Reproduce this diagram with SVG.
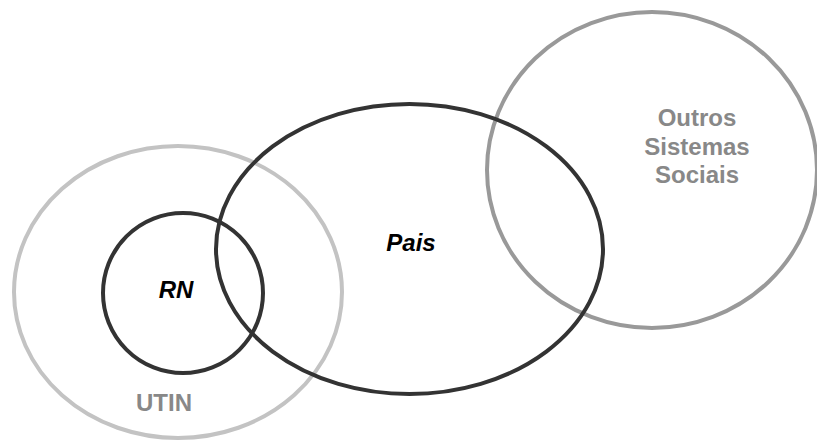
<svg xmlns="http://www.w3.org/2000/svg" width="817" height="442" viewBox="0 0 817 442">
<style>
.ring{fill:none;stroke-width:4}
.dark{stroke:#333333}
.light{stroke:#c3c3c3}
.mid{stroke:#999999}
.lbl{font-family:"Liberation Sans",Arial,sans-serif;font-weight:bold;font-size:24px;text-anchor:middle}
.it{font-style:italic;fill:#000000}
.gr{fill:#888888}
</style>
<rect width="817" height="442" fill="#ffffff"/>
<g id="utin">
<ellipse class="ring light" cx="178" cy="292" rx="164" ry="146"/>
<text class="lbl gr" x="164" y="411">UTIN</text>
</g>
<g id="outros">
<ellipse class="ring mid" cx="652" cy="170" rx="165" ry="158"/>
<text class="lbl gr" x="697" y="126">Outros</text>
<text class="lbl gr" x="697" y="155">Sistemas</text>
<text class="lbl gr" x="697" y="183">Sociais</text>
</g>
<g id="rn">
<ellipse class="ring dark" cx="183" cy="293" rx="80" ry="80"/>
<text class="lbl it" x="176" y="298">RN</text>
</g>
<g id="pais">
<ellipse class="ring dark" cx="409.5" cy="249" rx="193.5" ry="145"/>
<text class="lbl it" x="411" y="251">Pais</text>
</g>
<g id="connectors"></g>
</svg>
